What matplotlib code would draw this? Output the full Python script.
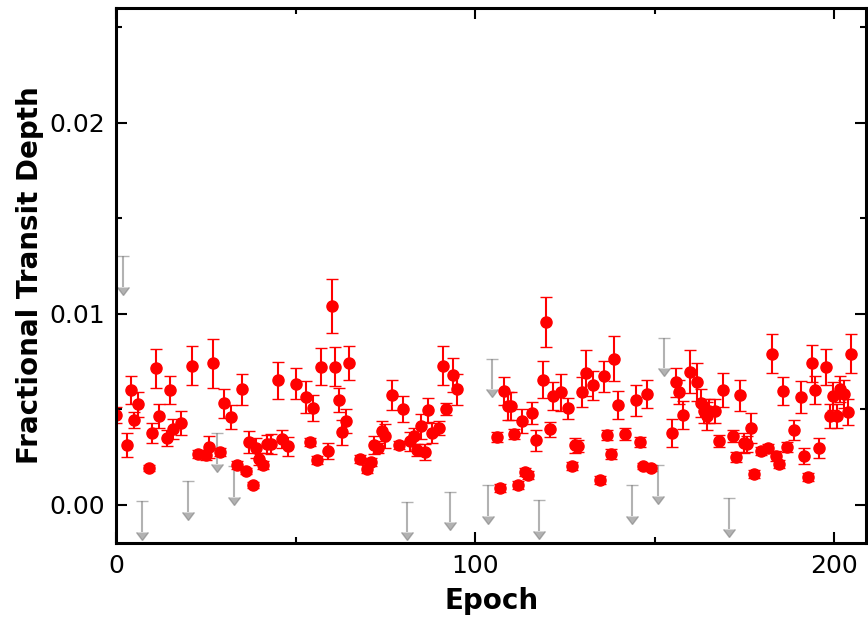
"""
Fractional transit depth per epoch, with upper limits.
"""

import matplotlib
matplotlib.use('Agg')
import matplotlib.pyplot as plt
from matplotlib.ticker import MultipleLocator

# detected transits
epoch = [0.0, 3.0, 4.1, 4.9, 6.0, 9.1, 9.9, 11.0, 11.9, 14.1,
         14.9, 15.8, 18.0, 21.1, 22.8, 25.0, 25.8, 27.0, 28.9, 30.0,
         32.0, 33.6, 35.0, 36.1, 37.0, 38.1, 38.9, 39.8, 40.9, 42.0,
         43.1, 45.1, 46.2, 47.9, 50.1, 52.9, 54.0, 54.9, 56.0, 57.1,
         59.0, 60.1, 61.0, 62.1, 62.9, 64.0, 64.9, 67.9, 69.9, 71.0,
         71.8, 72.9, 74.1, 74.9, 76.9, 78.8, 79.9, 81.9, 83.0, 83.8,
         85.0, 86.1, 86.9, 88.0, 89.9, 91.1, 91.9, 93.9, 95.0, 106.1,
         107.0, 108.1, 109.2, 110.0, 110.9, 112.0, 113.1, 113.9, 114.8, 115.9,
         117.0, 118.9, 119.8, 120.9, 121.7, 124.0, 125.9, 127.0, 127.9, 128.7,
         129.8, 130.9, 132.9, 134.8, 136.0, 136.8, 137.9, 138.8, 139.9, 141.8,
         144.9, 146.0, 146.8, 147.9, 149.1, 154.9, 156.0, 156.9, 158.0, 159.9,
         161.9, 163.0, 163.8, 164.7, 165.2, 166.9, 168.0, 169.1, 171.9, 172.8,
         173.9, 175.0, 175.8, 176.9, 177.8, 179.7, 181.7, 182.8, 183.9, 184.8,
         185.9, 187.0, 188.9, 190.9, 191.7, 192.8, 193.9, 194.8, 195.9, 197.9,
         198.9, 199.8, 200.9, 201.7, 202.9, 204.0, 204.8]
depth = [0.00469, 0.00313, 0.00599, 0.00443, 0.00526, 0.00193, 0.00375, 0.00714, 0.00464, 0.00349,
         0.00599, 0.00396, 0.00427, 0.00729, 0.00266, 0.00260, 0.00302, 0.00740, 0.00276, 0.00531,
         0.00458, 0.00208, 0.00604, 0.00177, 0.00328, 0.00104, 0.00297, 0.00240, 0.00208, 0.00318,
         0.00318, 0.00651, 0.00344, 0.00307, 0.00635, 0.00563, 0.00328, 0.00505, 0.00234, 0.00724,
         0.00281, 0.01042, 0.00724, 0.00547, 0.00380, 0.00438, 0.00745, 0.00240, 0.00188, 0.00224,
         0.00313, 0.00297, 0.00385, 0.00359, 0.00573, 0.00313, 0.00500, 0.00333, 0.00359, 0.00286,
         0.00411, 0.00276, 0.00495, 0.00375, 0.00401, 0.00729, 0.00500, 0.00682, 0.00604, 0.00354,
         0.00089, 0.00594, 0.00516, 0.00516, 0.00370, 0.00104, 0.00438, 0.00172, 0.00156, 0.00479,
         0.00339, 0.00656, 0.00958, 0.00396, 0.00568, 0.00589, 0.00505, 0.00203, 0.00313, 0.00307,
         0.00589, 0.00688, 0.00625, 0.00130, 0.00672, 0.00365, 0.00266, 0.00766, 0.00521, 0.00370,
         0.00547, 0.00328, 0.00203, 0.00578, 0.00193, 0.00375, 0.00641, 0.00589, 0.00469, 0.00698,
         0.00641, 0.00531, 0.00490, 0.00464, 0.00490, 0.00490, 0.00333, 0.00599, 0.00359, 0.00250,
         0.00573, 0.00323, 0.00318, 0.00401, 0.00161, 0.00281, 0.00297, 0.00792, 0.00255, 0.00214,
         0.00594, 0.00302, 0.00391, 0.00563, 0.00255, 0.00146, 0.00740, 0.00599, 0.00297, 0.00724,
         0.00464, 0.00568, 0.00464, 0.00604, 0.00578, 0.00484, 0.00792]
depth_err = [0.00042, 0.00063, 0.00073, 0.00042, 0.00065, 0.00016, 0.00052, 0.00104, 0.00063, 0.00042,
             0.00073, 0.00052, 0.00063, 0.00104, 0.00021, 0.00026, 0.00057, 0.00130, 0.00021, 0.00078,
             0.00063, 0.00021, 0.00083, 0.00016, 0.00057, 0.00016, 0.00052, 0.00031, 0.00021, 0.00047,
             0.00052, 0.00099, 0.00047, 0.00049, 0.00083, 0.00083, 0.00021, 0.00068, 0.00021, 0.00099,
             0.00042, 0.00141, 0.00102, 0.00063, 0.00065, 0.00063, 0.00089, 0.00021, 0.00021, 0.00021,
             0.00047, 0.00026, 0.00052, 0.00063, 0.00078, 0.00021, 0.00068, 0.00049, 0.00042, 0.00031,
             0.00065, 0.00042, 0.00063, 0.00052, 0.00036, 0.00104, 0.00031, 0.00089, 0.00083, 0.00026,
             0.00021, 0.00073, 0.00073, 0.00073, 0.00026, 0.00021, 0.00063, 0.00021, 0.00021, 0.00057,
             0.00055, 0.00099, 0.00130, 0.00039, 0.00073, 0.00096, 0.00057, 0.00021, 0.00039, 0.00031,
             0.00078, 0.00120, 0.00078, 0.00021, 0.00083, 0.00026, 0.00026, 0.00120, 0.00073, 0.00031,
             0.00083, 0.00026, 0.00016, 0.00073, 0.00016, 0.00073, 0.00078, 0.00063, 0.00073, 0.00115,
             0.00099, 0.00073, 0.00063, 0.00073, 0.00063, 0.00063, 0.00031, 0.00089, 0.00031, 0.00026,
             0.00083, 0.00052, 0.00042, 0.00078, 0.00021, 0.00021, 0.00021, 0.00104, 0.00026, 0.00021,
             0.00073, 0.00026, 0.00052, 0.00083, 0.00042, 0.00021, 0.00099, 0.00073, 0.00052, 0.00094,
             0.00063, 0.00073, 0.00063, 0.00068, 0.00073, 0.00068, 0.00104]

# non-detections (upper limits)
lim_epoch = [1.9, 7.2, 20.0, 28.1, 32.8, 81.0, 93.0, 103.6, 104.7, 117.8,
             143.8, 151.0, 152.7, 170.8]
lim_depth = [0.0130, 0.0002, 0.00125, 0.00375, 0.00203, 0.00016, 0.00068, 0.00104, 0.00766, 0.00026,
             0.00104, 0.00208, 0.00875, 0.00036]
lim_len = 0.0016

fig = plt.figure(figsize=(8.68, 6.2), dpi=100)
ax = fig.add_axes([0.134, 0.124, 0.864, 0.863])

ax.errorbar(lim_epoch, lim_depth, yerr=lim_len, uplims=True, fmt='none',
            color='gray', ecolor='gray', alpha=0.6, elinewidth=1.5, capsize=4, capthick=1)
ax.errorbar(epoch, depth, yerr=depth_err, fmt='o', color='red', ms=8,
            mec='red', ecolor='red', elinewidth=1.5, capsize=4, capthick=1)

ax.set_xlim(0, 209)
ax.set_ylim(-0.002, 0.026)
ax.xaxis.set_major_locator(MultipleLocator(100))
ax.xaxis.set_minor_locator(MultipleLocator(50))
ax.yaxis.set_major_locator(MultipleLocator(0.01))
ax.yaxis.set_minor_locator(MultipleLocator(0.005))
ax.tick_params(which='both', direction='in', top=True, right=True, labelsize=18, width=1.5)
ax.tick_params(which='major', length=8, pad=8)
ax.tick_params(which='minor', length=4)
for sp in ax.spines.values():
    sp.set_linewidth(2.2)

ax.set_xlabel('Epoch', fontsize=20, fontweight='bold', labelpad=6)
ax.set_ylabel('Fractional Transit Depth', fontsize=20, fontweight='bold', labelpad=4)

fig.savefig('out.png', dpi=100)
